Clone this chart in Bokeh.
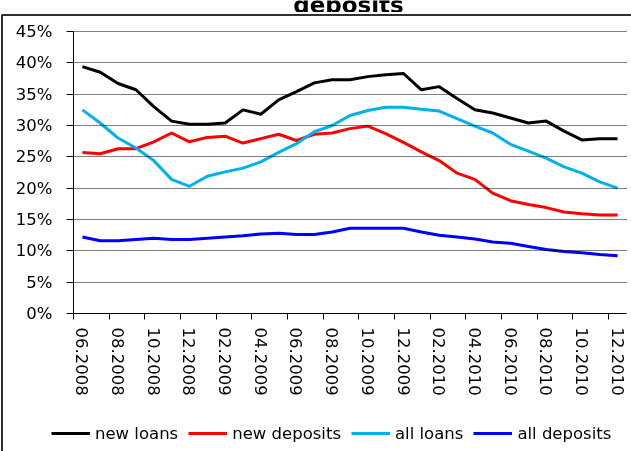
from bokeh.plotting import figure
from bokeh.models import (Range1d, FixedTicker, PrintfTickFormatter, Legend,
                          LegendItem, LinearAxis)
from bokeh.core.properties import value
from bokeh.embed import file_html
from bokeh.resources import INLINE

months = ["06.2008", "07.2008", "08.2008", "09.2008", "10.2008", "11.2008",
          "12.2008", "01.2009", "02.2009", "03.2009", "04.2009", "05.2009",
          "06.2009", "07.2009", "08.2009", "09.2009", "10.2009", "11.2009",
          "12.2009", "01.2010", "02.2010", "03.2010", "04.2010", "05.2010",
          "06.2010", "07.2010", "08.2010", "09.2010", "10.2010", "11.2010",
          "12.2010"]

new_loans = [39.4, 38.5, 36.7, 35.7, 33.0, 30.7, 30.2, 30.2, 30.4, 32.5, 31.8,
             34.1, 35.4, 36.8, 37.3, 37.3, 37.8, 38.1, 38.3, 35.7, 36.2, 34.3,
             32.5, 32.0, 31.2, 30.4, 30.7, 29.1, 27.7, 27.9, 27.9]
new_deposits = [25.7, 25.5, 26.3, 26.3, 27.4, 28.8, 27.4, 28.1, 28.3, 27.2, 27.9,
                28.6, 27.6, 28.6, 28.8, 29.5, 29.9, 28.7, 27.3, 25.8, 24.4, 22.4,
                21.4, 19.2, 18.0, 17.4, 16.9, 16.2, 15.9, 15.7, 15.7]
all_loans = [32.5, 30.4, 28.0, 26.4, 24.4, 21.4, 20.3, 21.9, 22.6, 23.2, 24.2,
             25.7, 27.1, 29.0, 30.0, 31.6, 32.4, 32.9, 32.9, 32.6, 32.3, 31.1,
             29.9, 28.8, 27.0, 25.9, 24.8, 23.4, 22.4, 21.0, 20.0]
all_deposits = [12.2, 11.6, 11.6, 11.8, 12.0, 11.8, 11.8, 12.0, 12.2, 12.4, 12.7,
                12.8, 12.6, 12.6, 13.0, 13.6, 13.6, 13.6, 13.6, 13.0, 12.5, 12.2,
                11.9, 11.4, 11.2, 10.7, 10.2, 9.9, 9.7, 9.4, 9.2]

series_names = ["new loans", "new deposits", "all loans", "all deposits"]
series_values = [new_loans, new_deposits, all_loans, all_deposits]
series_colors = ["#000000", "#FF0000", "#00B0F0", "#0000FF"]

y_ticks = [0, 5, 10, 15, 20, 25, 30, 35, 40, 45]
title_text = "deposits"

FONT = "DejaVu Sans"
n = len(months)
xs = [i + 0.5 for i in range(n)]  # category centres
NAN = float("nan")

W, H = 631, 451
L, R, T, B = 73, 5, 31, 138

# ---- background canvas: chart frame, cropped title, legend ----
bg = figure(width=W, height=H, x_range=Range1d(0, W), y_range=Range1d(H, 0),
            output_backend="svg", toolbar_location=None, min_border=0,
            x_axis_location=None, y_axis_location=None,
            styles={"position": "fixed", "left": "0px", "top": "0px",
                    "z-index": "-1"})
bg.grid.visible = False
bg.outline_line_color = None
bg.background_fill_color = "white"
bg.border_fill_color = "white"
bg.text(x=[348], y=[4], text=[title_text], text_font=value(FONT),
        text_font_style="bold", text_font_size="23px", text_align="center",
        text_baseline="alphabetic", text_color="#000000")
bg.quad(left=[250], right=[450], top=[11.5], bottom=[18],
        fill_color="white", line_color=None)
bg.line(x=[1.5, 1.5, 700], y=[700, 14.5, 14.5], line_color="#303030",
        line_width=2)

legend_items = []
for name, col in zip(series_names, series_colors):
    key = bg.line(x=[NAN], y=[NAN], line_color=col, line_width=3)
    legend_items.append(LegendItem(label=name, renderers=[key]))
legend = Legend(items=legend_items, orientation="horizontal", location=(51, 8),
                glyph_width=39, glyph_height=20, label_standoff=5, spacing=10,
                padding=0, margin=0, border_line_color=None,
                background_fill_alpha=0,
                label_text_font=FONT, label_text_font_size="16.5px",
                label_text_color="#000000")
bg.add_layout(legend, "center")

# ---- main chart ----
p = figure(width=W, height=H, x_range=Range1d(0, n), y_range=Range1d(0, 45),
           output_backend="svg", toolbar_location=None,
           min_border_left=L, min_border_right=R, min_border_top=T,
           min_border_bottom=B)
p.outline_line_color = None
p.background_fill_alpha = 0
p.border_fill_alpha = 0

p.xgrid.visible = False
p.ygrid.visible = False

# dotted horizontal guide lines drawn as inward ticks of a bare right axis
gax = LinearAxis(ticker=FixedTicker(ticks=y_ticks[1:]),
                 major_tick_in=W - L - R, major_tick_out=0,
                 major_tick_line_color="#000000", major_tick_line_dash="1 1",
                 minor_tick_line_color=None, axis_line_color=None,
                 major_label_text_color=None,
                 major_label_text_font_size="0px", major_label_standoff=0)
p.add_layout(gax, "right")

ya = p.yaxis[0]
ya.ticker = FixedTicker(ticks=y_ticks)
ya.formatter = PrintfTickFormatter(format="%d%%")
ya.major_tick_in = 0
ya.major_tick_out = 7
ya.minor_tick_line_color = None
ya.major_label_standoff = 14
ya.major_label_text_font = FONT
ya.major_label_text_font_size = "16.5px"
ya.major_label_text_color = "#000000"
ya.axis_line_color = "#000000"
ya.major_tick_line_color = "#000000"

xa = p.xaxis[0]
label_idx = list(range(0, n, 2))
xa.ticker = FixedTicker(ticks=[i + 0.5 for i in label_idx],
                        minor_ticks=[float(i) for i in label_idx])
xa.major_label_overrides = {i + 0.5: months[i] for i in label_idx}
xa.major_label_orientation = "vertical"
xa.major_tick_line_color = None
xa.major_tick_in = 0
xa.major_tick_out = 6
xa.minor_tick_in = 0
xa.minor_tick_out = 6
xa.minor_tick_line_color = "#000000"
xa.major_label_standoff = 8
xa.major_label_text_font = FONT
xa.major_label_text_font_size = "16.5px"
xa.major_label_text_color = "#000000"
xa.axis_line_color = "#000000"

for name, vals, col in zip(series_names, series_values, series_colors):
    p.line(xs, vals, line_color=col, line_width=3, line_join="round")

open("out.html", "w").write(file_html([bg, p], INLINE))
